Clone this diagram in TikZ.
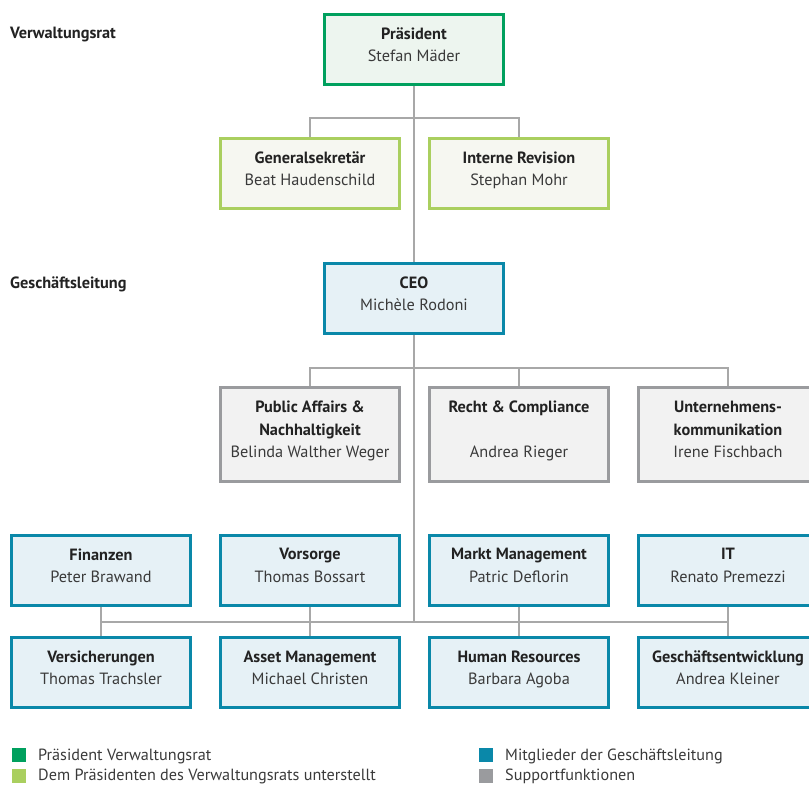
\documentclass[tikz,border=0pt]{standalone}
\usepackage{fontspec}
\setmainfont{PT Sans}
\usetikzlibrary{backgrounds}
\definecolor{pgreen}{HTML}{00A05E}
\definecolor{pgreenfill}{HTML}{EDF5EF}
\definecolor{lgreen}{HTML}{AACF5F}
\definecolor{lgreenfill}{HTML}{F6F7F1}
\definecolor{gblue}{HTML}{0A88A9}
\definecolor{gbluefill}{HTML}{E6F1F6}
\definecolor{sgray}{HTML}{9A9B9E}
\definecolor{sgrayfill}{HTML}{F2F2F2}
\definecolor{conncol}{HTML}{A8A8A8}
\definecolor{txt}{HTML}{222222}
\definecolor{txtn}{HTML}{3A3A3A}
\tikzset{
  orgbox/.style={draw, line width=2.8pt, minimum width=179pt, minimum height=70.5pt,
    inner sep=0pt, align=center, text=txtn,
    font=\fontsize{16.3}{22.5}\selectfont},
  tallbox/.style={orgbox, minimum height=94pt},
  vrbox/.style={orgbox, draw=pgreen, fill=pgreenfill},
  subbox/.style={orgbox, draw=lgreen, fill=lgreenfill},
  glbox/.style={orgbox, draw=gblue, fill=gbluefill},
  supbox/.style={tallbox, draw=sgray, fill=sgrayfill},
  conn/.style={draw=conncol, line width=1.2pt},
  sectlabel/.style={anchor=west, inner sep=0pt, text=txt, font=\fontsize{16.3}{19}\selectfont\bfseries},
  legsq/.style={minimum size=14pt, inner sep=0pt, anchor=north west},
  legtext/.style={anchor=west, inner sep=0pt, text=txtn, font=\fontsize{16.2}{19}\selectfont},
}
\newcommand{\ttl}[1]{{\color{txt}\bfseries #1}}
\newcommand{\nm}[1]{#1\rule[-10pt]{0pt}{10pt}}
\begin{document}
\begin{tikzpicture}[x=1pt, y=-1pt]
\useasboundingbox (0,0) rectangle (809,785);
\clip (0,0) rectangle (809,785);

\node[sectlabel] (lvr) at (10,35) {Verwaltungsrat};
\node[sectlabel] (lgl) at (10,284) {Geschäftsleitung};

\node[vrbox] (p) at (414,49.5) {\ttl{Präsident}\\\nm{Stefan Mäder}};
\node[subbox] (gs) at (310,173.5) {\ttl{Generalsekretär}\\\nm{Beat Haudenschild}};
\node[subbox] (ir) at (519,173.5) {\ttl{Interne Revision}\\\nm{Stephan Mohr}};

\node[glbox] (ceo) at (414,298.5) {\ttl{CEO}\\\nm{Michèle Rodoni}};

\node[supbox] (pa) at (310,434.5) {\ttl{Public Affairs \&}\\\ttl{Nachhaltigkeit}\\\nm{Belinda Walther Weger}};
\node[supbox] (rc) at (519,434.5) {\ttl{Recht \& Compliance}\\\mbox{}\\\nm{Andrea Rieger}};
\node[supbox] (uk) at (728,434.5) {\ttl{Unternehmens-}\\\ttl{kommunikation}\\\nm{Irene Fischbach}};

\node[glbox] (fin) at (101,570.5) {\ttl{Finanzen}\\\nm{Peter Brawand}};
\node[glbox] (vor) at (310,570.5) {\ttl{Vorsorge}\\\nm{Thomas Bossart}};
\node[glbox] (mm) at (519,570.5) {\ttl{Markt Management}\\\nm{Patric Deflorin}};
\node[glbox] (it) at (728,570.5) {\ttl{IT}\\\nm{Renato Premezzi}};

\node[glbox] (vers) at (101,672.5) {\ttl{Versicherungen}\\\nm{Thomas Trachsler}};
\node[glbox] (am) at (310,672.5) {\ttl{Asset Management}\\\nm{Michael Christen}};
\node[glbox] (hr) at (519,672.5) {\ttl{Human Resources}\\\nm{Barbara Agoba}};
\node[glbox] (ge) at (728,672.5) {\ttl{Geschäftsentwicklung}\\\nm{Andrea Kleiner}};

\coordinate (b1) at (414,118);
\coordinate (b2) at (414,368);
\coordinate (b3) at (414,622);

\begin{pgfonlayer}{background}
\draw[conn] (p.south) -- (ceo.north);
\draw[conn] (gs.north) -- (gs.north |- b1) -- (ir.north |- b1) -- (ir.north);
\draw[conn] (ceo.south) -- (b3);
\draw[conn] (pa.north) -- (pa.north |- b2) -- (uk.north |- b2) -- (uk.north);
\draw[conn] (rc.north) -- (rc.north |- b2);
\draw[conn] (fin.south) -- (vers.north);
\draw[conn] (vor.south) -- (am.north);
\draw[conn] (mm.south) -- (hr.north);
\draw[conn] (it.south) -- (ge.north);
\draw[conn] (fin.south |- b3) -- (it.south |- b3);
\end{pgfonlayer}

\node[legsq, fill=pgreen] (sq1) at (12,748) {};
\node[legsq, fill=lgreen] (sq2) at (12,768.5) {};
\node[legsq, fill=gblue] (sq3) at (479,748) {};
\node[legsq, fill=sgray] (sq4) at (479,768.5) {};
\node[legtext] (t1) at (38,756.5) {Präsident Verwaltungsrat};
\node[legtext] (t2) at (38,776.5) {Dem Präsidenten des Verwaltungsrats unterstellt};
\node[legtext] (t3) at (505,756.5) {Mitglieder der Geschäftsleitung};
\node[legtext] (t4) at (505,776.5) {Supportfunktionen};
\end{tikzpicture}
\end{document}
